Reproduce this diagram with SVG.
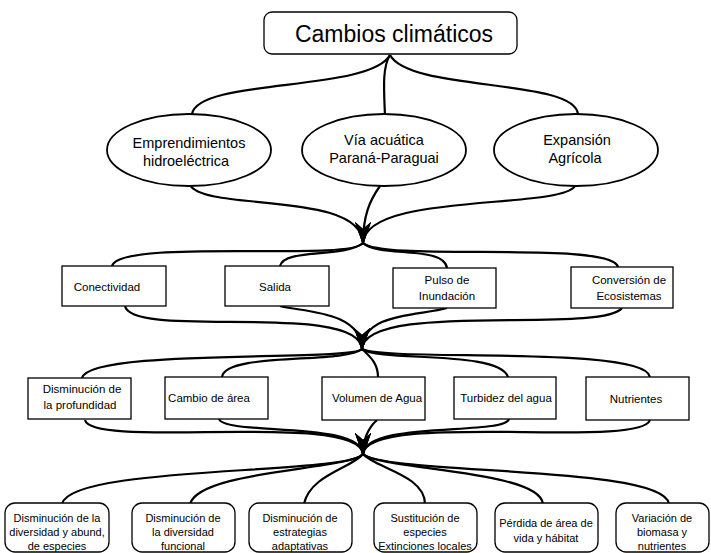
<svg xmlns="http://www.w3.org/2000/svg" width="711" height="553" viewBox="0 0 711 553">
<style>
.box{fill:#fff;stroke:#000;stroke-width:1.3}
.ell{fill:#fff;stroke:#000;stroke-width:1.8}
.t{font-family:"Liberation Sans",Arial,sans-serif;fill:#000;text-anchor:middle}
.t1{font-size:23px}
.t2{font-size:14.5px}
.t3{font-size:11.5px}
.t4{font-size:11px}
.c{fill:none;stroke:#000;stroke-width:2.2}
</style>
<defs>
<marker id="ah" markerUnits="userSpaceOnUse" markerWidth="30" markerHeight="30" refX="0" refY="0" viewBox="-24 -12 30 24" orient="auto" overflow="visible">
<path d="M1,0 L-22,-8 L-15,0 L-22,8 Z" fill="#000"/>
</marker>
</defs>
<rect width="711" height="553" fill="#fff"/>
<g id="connectors">
<path class="c" d="M390,55 C370,92 198,78 192,114"/>
<path class="c" d="M390,55 C382,68 384,90 385,116"/>
<path class="c" d="M390,55 C410,92 574,78 578,114"/>
<path class="c" d="M190,185 C205,212 363,190 363,244" marker-end="url(#ah)"/>
<path class="c" d="M380,186 C370,200 363,215 363,244" marker-end="url(#ah)"/>
<path class="c" d="M575,186 C560,210 363,192 363,244" marker-end="url(#ah)"/>
<path class="c" d="M363,243 C350,262 120,238 112,266"/>
<path class="c" d="M363,243 C345,258 284,248 280,266"/>
<path class="c" d="M363,243 C378,258 444,245 447,268"/>
<path class="c" d="M363,243 C385,262 612,240 618,267"/>
<path class="c" d="M125,306 C132,340 362,300 362,350" marker-end="url(#ah)"/>
<path class="c" d="M280,306 C300,312 362,310 362,350" marker-end="url(#ah)"/>
<path class="c" d="M447,308 C420,316 362,312 362,350" marker-end="url(#ah)"/>
<path class="c" d="M622,308 C600,335 362,300 362,350" marker-end="url(#ah)"/>
<path class="c" d="M362,349 C350,362 90,348 82,378"/>
<path class="c" d="M362,349 C345,364 225,352 222,377"/>
<path class="c" d="M362,349 C372,358 378,365 378,377"/>
<path class="c" d="M362,349 C380,362 500,350 508,377"/>
<path class="c" d="M362,349 C385,362 645,345 650,377"/>
<path class="c" d="M85,420 C92,450 363,410 363,455" marker-end="url(#ah)"/>
<path class="c" d="M219,419 C225,436 363,420 363,455" marker-end="url(#ah)"/>
<path class="c" d="M377,420 C368,428 363,440 363,455" marker-end="url(#ah)"/>
<path class="c" d="M509,419 C505,436 363,420 363,455" marker-end="url(#ah)"/>
<path class="c" d="M650,420 C640,450 363,410 363,455" marker-end="url(#ah)"/>
<path class="c" d="M363,454 C350,475 70,465 62,504"/>
<path class="c" d="M363,454 C350,470 200,470 190,504"/>
<path class="c" d="M363,454 C352,468 310,475 304,504"/>
<path class="c" d="M363,454 C375,468 425,475 425,504"/>
<path class="c" d="M363,454 C380,470 540,470 543,504"/>
<path class="c" d="M363,454 C385,475 665,465 669,504"/>
</g>
<g id="n-cambios">
<rect class="box" x="264" y="12" width="253" height="42" rx="8"/>
<text class="t t1" x="394" y="42">Cambios climáticos</text>
</g>
<g id="n-emprend">
<ellipse class="ell" cx="189" cy="150" rx="82" ry="36"/>
<text class="t t2" x="189" y="148">Emprendimientos</text>
<text class="t t2" x="186" y="166">hidroeléctrica</text>
</g>
<g id="n-via">
<ellipse class="ell" cx="384" cy="150" rx="82" ry="36"/>
<text class="t t2" x="384" y="145">Vía acuática</text>
<text class="t t2" x="384" y="163">Paraná-Paraguai</text>
</g>
<g id="n-expansion">
<ellipse class="ell" cx="576" cy="150" rx="82" ry="36"/>
<text class="t t2" x="577" y="145">Expansión</text>
<text class="t t2" x="575" y="163">Agrícola</text>
</g>
<g id="n-conectividad">
<rect class="box" x="62" y="266" width="104" height="40"/>
<text class="t t3" x="107" y="291">Conectividad</text>
</g>
<g id="n-salida">
<rect class="box" x="225" y="266" width="104" height="40"/>
<text class="t t3" x="275" y="291">Salida</text>
</g>
<g id="n-pulso">
<rect class="box" x="393" y="268" width="103" height="40"/>
<text class="t t3" x="447" y="284">Pulso de</text>
<text class="t t3" x="447" y="300">Inundación</text>
</g>
<g id="n-conversion">
<rect class="box" x="571" y="267" width="102" height="41"/>
<text class="t t3" x="629" y="284">Conversión de</text>
<text class="t t3" x="629" y="300">Ecosistemas</text>
</g>
<g id="n-profundidad">
<rect class="box" x="28" y="378" width="103" height="41"/>
<text class="t t3" x="82" y="393">Disminución de</text>
<text class="t t3" x="80" y="409">la profundidad</text>
</g>
<g id="n-cambioarea">
<rect class="box" x="165" y="377" width="103" height="42"/>
<text class="t t3" x="209" y="402">Cambio de área</text>
</g>
<g id="n-volumen">
<rect class="box" x="322" y="377" width="103" height="43"/>
<text class="t t3" x="377" y="402">Volumen de Agua</text>
</g>
<g id="n-turbidez">
<rect class="box" x="454" y="377" width="102" height="42"/>
<text class="t t3" x="506" y="402">Turbidez del agua</text>
</g>
<g id="n-nutrientes">
<rect class="box" x="586" y="377" width="103" height="43"/>
<text class="t t3" x="636" y="403">Nutrientes</text>
</g>
<g id="n-diversidad">
<rect class="box" x="5" y="503" width="104" height="49" rx="10"/>
<text class="t t4" x="57" y="522">Disminución de la</text>
<text class="t t4" x="57" y="536">diversidad y abund,</text>
<text class="t t4" x="57" y="550">de especies</text>
</g>
<g id="n-funcional">
<rect class="box" x="132" y="503" width="103" height="49" rx="10"/>
<text class="t t4" x="183" y="522">Disminución de</text>
<text class="t t4" x="183" y="536">la diversidad</text>
<text class="t t4" x="183" y="550">funcional</text>
</g>
<g id="n-estrategias">
<rect class="box" x="249" y="503" width="103" height="49" rx="10"/>
<text class="t t4" x="300" y="522">Disminución de</text>
<text class="t t4" x="300" y="536">estrategias</text>
<text class="t t4" x="300" y="550">adaptativas</text>
</g>
<g id="n-sustitucion">
<rect class="box" x="374" y="503" width="103" height="49" rx="10"/>
<text class="t t4" x="425" y="522">Sustitución de</text>
<text class="t t4" x="425" y="536">especies</text>
<text class="t t4" x="425" y="550">Extinciones locales</text>
</g>
<g id="n-perdida">
<rect class="box" x="495" y="503" width="103" height="49" rx="10"/>
<text class="t t4" x="546" y="527">Pérdida de área de</text>
<text class="t t4" x="546" y="542">vida y hábitat</text>
</g>
<g id="n-variacion">
<rect class="box" x="616" y="503" width="93" height="49" rx="10"/>
<text class="t t4" x="662" y="522">Variación de</text>
<text class="t t4" x="662" y="536">biomasa y</text>
<text class="t t4" x="662" y="550">nutrientes</text>
</g>
</svg>
